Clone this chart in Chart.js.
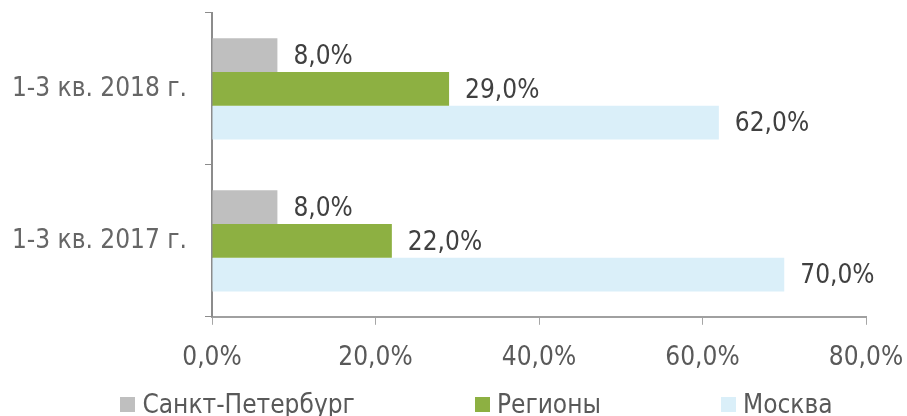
<!DOCTYPE html>
<html>
<head>
<meta charset="utf-8">
<script src="https://cdn.jsdelivr.net/npm/chart.js@4"></script>
<style>
  html, body { margin: 0; padding: 0; background: #fff; }
  #wrap { width: 907px; height: 416px; position: relative; overflow: hidden; }
  #legend {
    position: absolute; left: 46px; right: 0; top: 389px;
    display: flex; justify-content: center; gap: 120px;
    font: 26px "DejaVu Sans Condensed", sans-serif; color: #595959;
    line-height: 30px; white-space: nowrap;
  }
  #legend span.item { display: flex; align-items: center; }
  #legend i { display: inline-block; width: 15px; height: 15px; margin-right: 7px; }
</style>
</head>
<body>
<div id="wrap"><canvas id="myChart"></canvas><div id="legend"></div></div>
<script>
// categories and series
const periods = ['1-3 кв. 2018 г.', '1-3 кв. 2017 г.'];
const seriesNames = ['Санкт-Петербург', 'Регионы', 'Москва'];
const spbValues = [8, 8];
const regionValues = [29, 22];
const moscowValues = [62, 70];
const xTicks = [0, 20, 40, 60, 80];

const colors = ['#bfbfbf', '#8db042', '#daeff9'];
const FONT = '"DejaVu Sans Condensed", sans-serif';

const fmt = v => v.toFixed(1).replace('.', ',') + '%';

// value labels at the end of each bar
const barLabels = {
  id: 'barLabels',
  afterDatasetsDraw(chart) {
    const ctx = chart.ctx;
    ctx.save();
    ctx.font = '26px ' + FONT;
    ctx.fillStyle = '#404040';
    ctx.textBaseline = 'middle';
    ctx.textAlign = 'left';
    chart.data.datasets.forEach((ds, i) => {
      chart.getDatasetMeta(i).data.forEach((el, j) => {
        ctx.fillText(fmt(ds.data[j]), el.x + 16, el.y + 2);
      });
    });
    ctx.restore();
  }
};

const ctx = document.getElementById('myChart');

const chart = new Chart(ctx, {
  type: 'bar',
  data: {
    labels: periods,
    datasets: [
      { label: seriesNames[0], data: spbValues, backgroundColor: colors[0] },
      { label: seriesNames[1], data: regionValues, backgroundColor: colors[1] },
      { label: seriesNames[2], data: moscowValues, backgroundColor: colors[2] }
    ]
  },
  options: {
    indexAxis: 'y',
    responsive: true,
    maintainAspectRatio: false,
    animation: false,
    categoryPercentage: 0.667,
    barPercentage: 1.0,
    layout: { padding: { top: 13, right: 41, left: 0, bottom: 24 } },
    scales: {
      x: {
        min: 0,
        max: 80,
        afterBuildTicks: scale => { scale.ticks = xTicks.map(v => ({ value: v })); },
        afterFit: scale => { scale.paddingLeft = 0; scale.paddingRight = 0; },
        border: { color: '#a0a0a0', width: 2 },
        grid: { drawOnChartArea: false, drawTicks: true, tickLength: 8, color: '#a6a6a6' },
        ticks: {
          color: '#595959',
          font: { family: FONT, size: 26 },
          padding: 18,
          callback: v => fmt(v)
        }
      },
      y: {
        afterFit: scale => { scale.width = 212; scale.paddingTop = 0; scale.paddingBottom = 0; },
        border: { color: '#8c8c8c', width: 2 },
        grid: { drawOnChartArea: false, drawTicks: true, tickLength: 7, color: '#8c8c8c', offset: true },
        ticks: {
          color: '#666666',
          font: { family: FONT, size: 26 },
          padding: 18
        }
      }
    },
    plugins: {
      legend: { display: false },
      tooltip: { enabled: false }
    }
  },
  plugins: [barLabels]
});

// legend below the chart, built from the series names and colours
const legend = document.getElementById('legend');
chart.data.datasets.forEach(ds => {
  const item = document.createElement('span');
  item.className = 'item';
  const box = document.createElement('i');
  box.style.background = ds.backgroundColor;
  item.appendChild(box);
  item.appendChild(document.createTextNode(ds.label));
  legend.appendChild(item);
});
</script>
</body>
</html>
